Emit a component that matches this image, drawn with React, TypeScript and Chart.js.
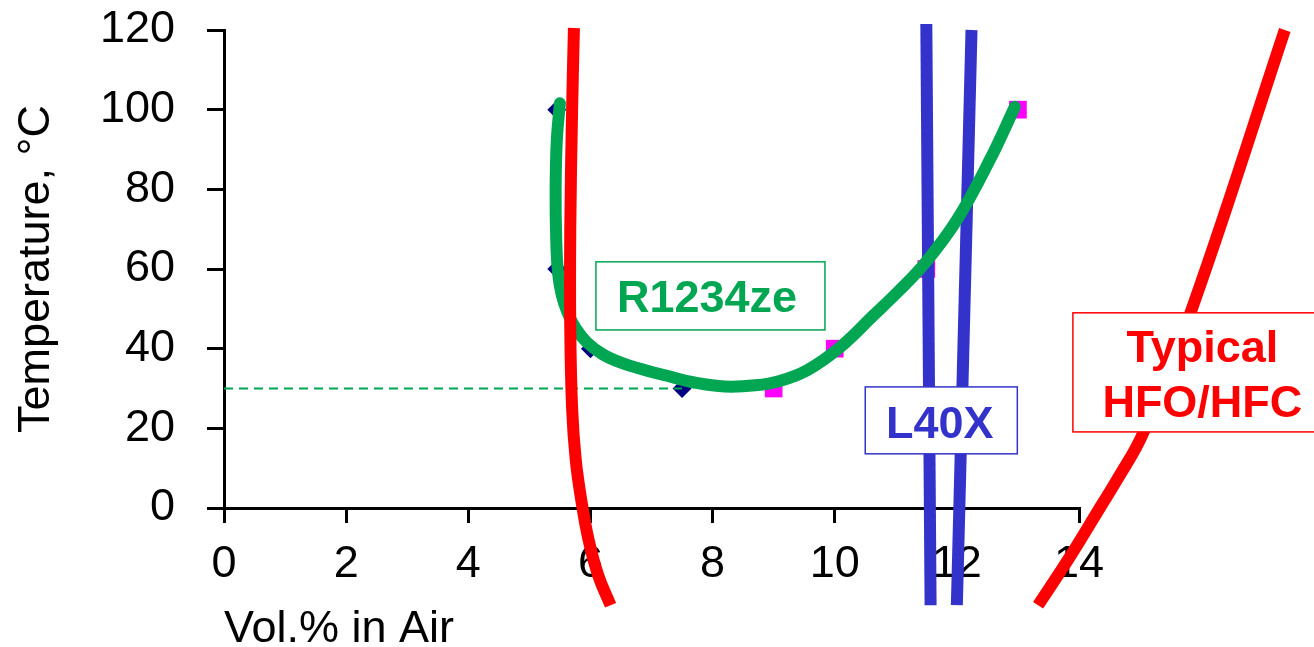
import React, { useEffect, useRef } from "react";
import { Chart, registerables } from "chart.js";

Chart.register(...registerables);

// ---- tick labels ----
const xTickValues = [0, 2, 4, 6, 8, 10, 12, 14];
const yTickValues = [0, 20, 40, 60, 80, 100, 120];

// ---- measured points (R1234ze flammability limits) ----
const lowerLimitX = [5.45, 5.45, 6, 7.5];
const lowerLimitY = [100, 60, 40, 30];
const upperLimitX = [9, 10, 11.5, 13];
const upperLimitY = [30, 40, 60, 100];

// ---- R1234ze fitted curve ----
const r1234zeX = [5.5, 5.45, 5.43, 5.44, 5.47, 5.53, 5.62, 5.75, 5.94, 6.2, 6.5, 6.9, 7.3, 7.7, 8.2, 8.7, 9.1, 9.55, 10.09, 10.63, 11.05, 11.48, 12.0, 12.54, 12.95];
const r1234zeY = [101.6, 92.4, 80, 67.3, 59, 53.5, 49.3, 45.3, 41.6, 38.6, 36.5, 34.6, 33, 31.5, 30.5, 30.8, 31.9, 34.6, 40.4, 48.3, 54.5, 61.5, 72.3, 87.4, 100.7];

// ---- typical HFO/HFC limits (red) ----
const hfcLowerX = [5.73, 5.7, 5.67, 5.67, 5.7, 5.76, 5.85, 5.97, 6.13, 6.33];
const hfcLowerY = [120.5, 100, 70, 45, 25, 12, 2, -8, -17, -24.4];
const hfcUpperX = [17.37, 15.9, 15.05, 14.62, 14.34, 13.82, 13.33];
const hfcUpperY = [120, 52.2, 18.8, 7, 0, -13, -24.4];

// ---- L40X limits (blue) ----
const l40xLowerX = [11.5, 11.57];
const l40xLowerY = [121.5, -24.4];
const l40xUpperX = [12.24, 12.0];
const l40xUpperY = [120, -24.4];

// ---- 30 °C reference line ----
const refLineX = [0, 7.5];
const refLineY = [30, 30];

// ---- labels ----
const labelTexts = [["R1234ze"], ["L40X"], ["Typical", "HFO/HFC"]];

const GREEN = "#00A651";
const RED = "#FF0000";
const BLUE = "#3333CC";

const pts = (xs: number[], ys: number[]) => xs.map((x, i) => ({ x, y: ys[i] }));

// label box placements in data units
const labelBoxes = [
  { text: labelTexts[0], color: GREEN, x1: 6.09, x2: 9.84, y1: 61.8, y2: 44.7, tx: 7.91, ty: [49.3] },
  { text: labelTexts[1], color: BLUE, x1: 10.5, x2: 12.99, y1: 30.4, y2: 13.6, tx: 11.72, ty: [17.6] },
  { text: labelTexts[2], color: RED, x1: 13.9, x2: 18.2, y1: 49.0, y2: 19.1, tx: 16.02, ty: [36.7, 22.8] },
];

const labelPlugin = {
  id: "labelBoxes",
  afterDatasetsDraw(chart: any) {
    const { ctx } = chart;
    const xs = chart.scales.x;
    const ys = chart.scales.y;
    ctx.save();
    for (const b of labelBoxes) {
      const l = xs.getPixelForValue(b.x1);
      const r = xs.getPixelForValue(b.x2);
      const t = ys.getPixelForValue(b.y1);
      const btm = ys.getPixelForValue(b.y2);
      ctx.fillStyle = "#ffffff";
      ctx.fillRect(l, t, r - l, btm - t);
      ctx.strokeStyle = b.color;
      ctx.lineWidth = 1.5;
      ctx.strokeRect(l, t, r - l, btm - t);
      ctx.fillStyle = b.color;
      ctx.font = "bold 45px 'Liberation Sans', Arial, sans-serif";
      ctx.textAlign = "center";
      ctx.textBaseline = "alphabetic";
      b.text.forEach((s, i) => {
        ctx.fillText(s, xs.getPixelForValue(b.tx), ys.getPixelForValue(b.ty[i]));
      });
    }
    ctx.restore();
  },
};

export default function App() {
  const ref = useRef<HTMLCanvasElement>(null);

  useEffect(() => {
    document.body.style.margin = "0";
    Chart.defaults.font.family = "'Liberation Sans', Arial, sans-serif";
    Chart.defaults.color = "#000";

    const lineDs = (data: any[], color: string, width: number, order: number, extra: any = {}) => ({
      data,
      showLine: true,
      borderColor: color,
      backgroundColor: color,
      borderWidth: width,
      pointRadius: 0,
      pointHoverRadius: 0,
      tension: 0.4,
      clip: false,
      order,
      borderCapStyle: "butt",
      ...extra,
    });

    const chart = new Chart(ref.current!, {
      type: "scatter",
      data: {
        datasets: [
          lineDs(pts(hfcLowerX, hfcLowerY), RED, 12, 1),
          lineDs(pts(hfcUpperX, hfcUpperY), RED, 12, 1),
          lineDs(pts(r1234zeX, r1234zeY), GREEN, 12, 2, { borderCapStyle: "round" }),
          lineDs(pts(l40xLowerX, l40xLowerY), BLUE, 12, 3, { tension: 0 }),
          lineDs(pts(l40xUpperX, l40xUpperY), BLUE, 12, 3, { tension: 0 }),
          lineDs(pts(refLineX, refLineY), GREEN, 2, 4, { borderDash: [9, 6], tension: 0 }),
          {
            data: pts(lowerLimitX, lowerLimitY),
            pointStyle: "rectRot",
            pointRadius: 9.5,
            backgroundColor: "#000080",
            borderColor: "#000080",
            borderWidth: 0,
            clip: false,
            order: 5,
          },
          {
            data: pts(upperLimitX, upperLimitY),
            pointStyle: "rect",
            pointRadius: 12.5,
            backgroundColor: "#FF00FF",
            borderColor: "#FF00FF",
            borderWidth: 0,
            clip: false,
            order: 5,
          },
        ] as any,
      },
      options: {
        responsive: false,
        animation: false,
        events: [],
        layout: { padding: { left: 0, right: 235, top: 30, bottom: 0 } },
        elements: { line: { capBezierPoints: false } as any },
        plugins: { legend: { display: false }, tooltip: { enabled: false } },
        scales: {
          x: {
            type: "linear",
            min: 0,
            max: 14,
            afterBuildTicks: (s: any) => {
              s.ticks = xTickValues.map((v) => ({ value: v }));
            },
            afterFit: (s: any) => {
              s.height = 139;
            },
            ticks: { font: { size: 45 }, color: "#000", padding: 15, maxRotation: 0 },
            grid: { drawOnChartArea: false, drawTicks: true, tickLength: 15, color: "#000", lineWidth: 3 },
            border: { display: true, color: "#000", width: 3 },
            title: {
              display: true,
              text: "Vol.% in Air",
              align: "start",
              color: "#000",
              font: { size: 45 },
              padding: { top: 0, bottom: -10 },
            },
          },
          y: {
            type: "linear",
            min: 0,
            max: 120,
            afterBuildTicks: (s: any) => {
              s.ticks = yTickValues.map((v) => ({ value: v }));
            },
            afterFit: (s: any) => {
              s.width = 224;
              s.paddingTop = 0;
              s.paddingBottom = 0;
            },
            ticks: { font: { size: 45 }, color: "#000", padding: 32 },
            grid: { drawOnChartArea: false, drawTicks: true, tickLength: 17, color: "#000", lineWidth: 3 },
            border: { display: true, color: "#000", width: 3 },
            title: {
              display: true,
              text: "Temperature, °C",
              color: "#000",
              font: { size: 45 },
              padding: { top: 10, bottom: 0 },
            },
          },
        },
      },
      plugins: [labelPlugin],
    } as any);

    return () => chart.destroy();
  }, []);

  return (
    <div style={{ width: 1314, height: 647 }}>
      <canvas ref={ref} width={1314} height={647} style={{ display: "block" }} />
    </div>
  );
}
